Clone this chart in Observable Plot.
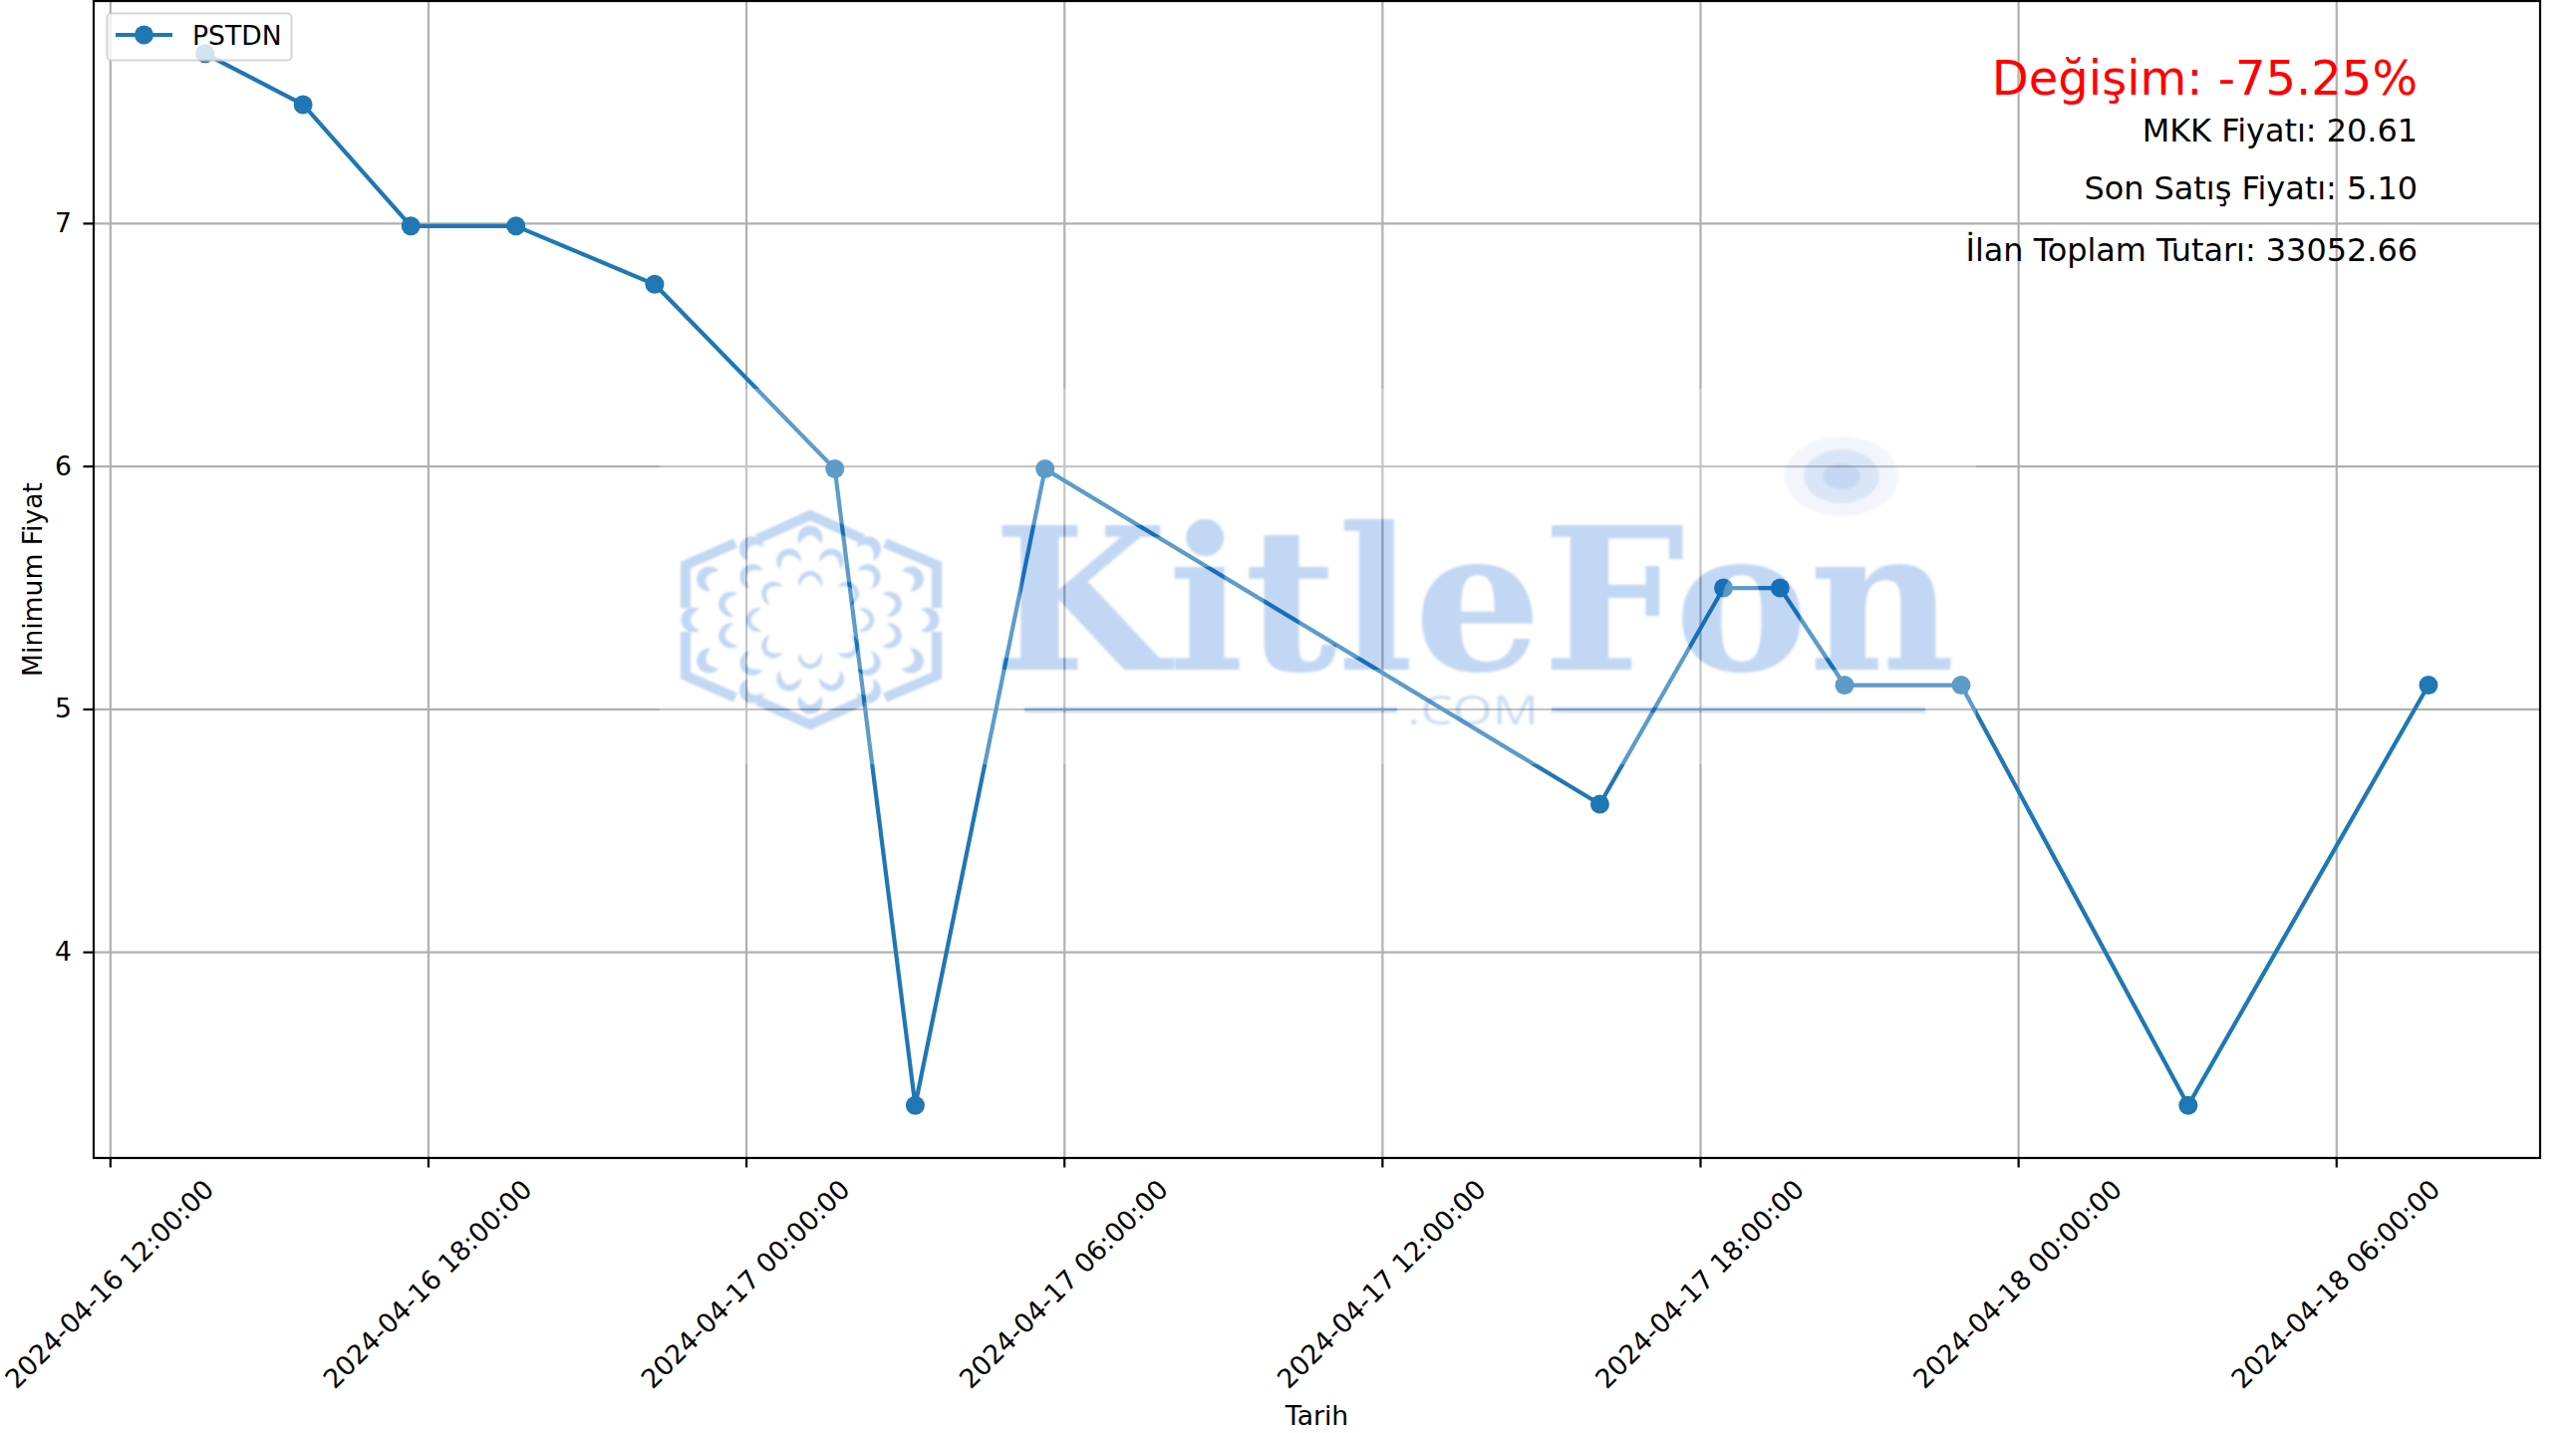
<!DOCTYPE html>
<html lang="tr">
<head>
<meta charset="utf-8">
<title>PSTDN</title>
<script src="https://cdn.jsdelivr.net/npm/d3@7"></script>
<script src="https://cdn.jsdelivr.net/npm/@observablehq/plot@0.6"></script>
<style>
html,body{margin:0;padding:0;background:#fff;overflow:hidden}
svg{display:block}
</style>
</head>
<body>
<div id="chart"></div>
<script>
const seriesName = "PSTDN";
const times = [
  "2024-04-16T13:47:00Z","2024-04-16T15:38:00Z","2024-04-16T17:40:00Z","2024-04-16T19:39:00Z",
  "2024-04-16T22:16:00Z","2024-04-17T01:40:00Z","2024-04-17T03:11:00Z","2024-04-17T05:38:00Z",
  "2024-04-17T16:06:00Z","2024-04-17T18:26:00Z","2024-04-17T19:30:00Z","2024-04-17T20:43:00Z",
  "2024-04-17T22:55:00Z","2024-04-18T03:12:00Z","2024-04-18T07:44:00Z"
];
const prices = [7.70,7.49,6.99,6.99,6.75,5.99,3.37,5.99,4.61,5.50,5.50,5.10,5.10,3.37,5.10];
const xTicks = [
  "2024-04-16T12:00:00Z","2024-04-16T18:00:00Z","2024-04-17T00:00:00Z","2024-04-17T06:00:00Z",
  "2024-04-17T12:00:00Z","2024-04-17T18:00:00Z","2024-04-18T00:00:00Z","2024-04-18T06:00:00Z"
];
const xTickLabels = [
  "2024-04-16 12:00:00","2024-04-16 18:00:00","2024-04-17 00:00:00","2024-04-17 06:00:00",
  "2024-04-17 12:00:00","2024-04-17 18:00:00","2024-04-18 00:00:00","2024-04-18 06:00:00"
];
const yTicks = [4,5,6,7];
const xDomain = ["2024-04-16T11:41:00Z","2024-04-18T09:50:24Z"];
const yDomain = [3.1535,7.9165];
const annotations = [
  {text:"Değişim: -75.25%", size:48, color:"#ff0000", baseline:95},
  {text:"MKK Fiyatı: 20.61", size:31.9, color:"#000000", baseline:141.5},
  {text:"Son Satış Fiyatı: 5.10", size:31.9, color:"#000000", baseline:199.5},
  {text:"İlan Toplam Tutarı: 33052.66", size:31.9, color:"#000000", baseline:261.5}
];

const FONT = "'DejaVu Sans', sans-serif";
const BLUE = "#1f77b4";
const WM = "rgb(0,88,205)";
const data = times.map((t,i)=>({t:new Date(t), v:prices[i]}));
const tickDates = xTicks.map((t,i)=>({d:new Date(t), label:xTickLabels[i]}));

const chart = Plot.plot({
  width:2585, height:1438,
  marginTop:0.5, marginRight:36.5, marginBottom:276.5, marginLeft:93.5,
  style:{background:"#fff", fontFamily:FONT, overflow:"visible"},
  x:{type:"utc", domain:xDomain.map(d=>new Date(d))},
  y:{domain:yDomain},
  marks:[
    Plot.gridX(xTicks.map(d=>new Date(d)),{stroke:"#b0b0b0",strokeOpacity:1,strokeWidth:2.2}),
    Plot.gridY(yTicks,{stroke:"#b0b0b0",strokeOpacity:1,strokeWidth:2.2}),
    Plot.axisX(xTicks.map(d=>new Date(d)),{tickFormat:()=>"",tickSize:10,strokeWidth:2.2,label:null,stroke:"#000"}),
    Plot.axisY(yTicks,{tickSize:10,tickPadding:12,strokeWidth:2.2,fontSize:26.6,label:null,fill:"#000",stroke:"#000",tickFormat:d=>String(d)}),
    Plot.text(tickDates,{x:"d",text:"label",frameAnchor:"bottom",dy:127,dx:-0.5,rotate:-45,textAnchor:"middle",lineAnchor:"middle",fontSize:26.6,fill:"#000"}),
    Plot.text(["Tarih"],{frameAnchor:"bottom",dy:259,textAnchor:"middle",lineAnchor:"middle",fontSize:26.6,fill:"#000"}),
    Plot.text(["Minimum Fiyat"],{frameAnchor:"left",dx:-61,rotate:-90,textAnchor:"middle",lineAnchor:"middle",fontSize:26.6,fill:"#000"}),
    Plot.line(data,{x:"t",y:"v",stroke:BLUE,strokeWidth:4.2,curve:"linear"}),
    Plot.dot(data,{x:"t",y:"v",r:9.5,fill:BLUE,stroke:"none"}),
    Plot.frame({stroke:"#000",strokeWidth:2.2}),
    ...annotations.map(a=>Plot.text([a.text],{
      frameAnchor:"top-right",textAnchor:"end",lineAnchor:"middle",
      dx:-123,dy:a.baseline-1-a.size*0.32,fontSize:a.size,fill:a.color
    }))
  ]
});
document.getElementById("chart").appendChild(chart);

/* Semi-transparent KitleFon watermark laid over the plot */
const svg = d3.select(chart);
const defs = svg.append("defs");
defs.append("filter").attr("id","wmblur").attr("x","-5%").attr("y","-5%").attr("width","110%").attr("height","110%")
  .append("feGaussianBlur").attr("stdDeviation",0.9);

function drawShapes(g){
  const cx=813, cy=622;
  const hexPaths = [
    "M760,541 L813,517 L866,541",
    "M760,703 L813,727 L866,703",
    "M738,545 L688,567 L688,610",
    "M738,700 L688,678 L688,634",
    "M888,545 L940,567 L940,610",
    "M888,700 L940,678 L940,634"
  ];
  hexPaths.forEach(p=>g.append("path").attr("d",p).attr("fill","none").attr("stroke","currentColor").attr("stroke-width",10));
  const crescent=(px,py,R,wf,bf,depth)=>{
    const ang=Math.atan2(py-cy,px-cx)*180/Math.PI+90;
    const w=R*wf,b=R*bf;
    const d=`M${-w},${b} A${R},${R} 0 1 1 ${w},${b} Q0,${b-2*depth} ${-w},${b} Z`;
    g.append("path").attr("d",d).attr("transform",`translate(${px},${py}) rotate(${ang})`).attr("fill","currentColor");
  };
  for(let i=0;i<12;i++){const t=i*30*Math.PI/180;
    crescent(cx+117*Math.cos(t),cy+82*Math.sin(t),12.5,0.88,0.47,9);}
  for(let i=0;i<12;i++){const t=(15+i*30)*Math.PI/180;
    crescent(cx+82*Math.cos(t),cy+61*Math.sin(t),12.5,0.92,0.38,11);}
  for(let i=0;i<8;i++){const t=i*45*Math.PI/180;
    crescent(cx+52*Math.cos(t),cy+37*Math.sin(t),12,0.95,0.3,11);}
  g.append("text").text("KitleFon").attr("x",996).attr("y",672).attr("text-anchor","start")
    .attr("font-family","'DejaVu Serif', serif").attr("font-weight",700).attr("font-size",198)
    .attr("textLength",966).attr("lengthAdjust","spacingAndGlyphs").attr("fill","currentColor");
  g.append("rect").attr("x",1028).attr("y",710).attr("width",374).attr("height",5).attr("fill","currentColor");
  g.append("rect").attr("x",1557).attr("y",710).attr("width",375).attr("height",5).attr("fill","currentColor");
}
const mask = defs.append("mask").attr("id","wmmask").attr("maskUnits","userSpaceOnUse")
  .attr("x",0).attr("y",0).attr("width",2585).attr("height",1438);
mask.append("rect").attr("x",662).attr("y",390).attr("width",1321).attr("height",377).attr("fill","#fff");
drawShapes(mask.append("g").style("color","#000"));

svg.append("rect").attr("x",662).attr("y",390).attr("width",1321).attr("height",377)
  .attr("fill","#fff").attr("fill-opacity",0.28).attr("mask","url(#wmmask)");

const wm = svg.append("g").attr("filter","url(#wmblur)");
const shapes = wm.append("g").style("color",WM).attr("opacity",0.24);
drawShapes(shapes);
wm.append("text").text(".COM").attr("x",1412).attr("y",727).attr("text-anchor","start")
  .attr("font-family","'Open Sans', sans-serif").attr("font-weight",400).attr("font-size",40)
  .attr("textLength",132).attr("lengthAdjust","spacingAndGlyphs").attr("fill",WM).attr("opacity",0.2);
[[57,40,0.05],[38,27,0.11],[19,13,0.09]].forEach(([rx,ry,o])=>
  wm.append("ellipse").attr("cx",1848).attr("cy",478).attr("rx",rx).attr("ry",ry).attr("fill",WM).attr("opacity",o));

/* Legend */
const lg = svg.append("g");
lg.append("rect").attr("x",107.5).attr("y",13.5).attr("width",185).attr("height",47).attr("rx",4)
  .attr("fill","#fff").attr("fill-opacity",0.8).attr("stroke","#cccccc").attr("stroke-opacity",0.8).attr("stroke-width",2.2);
lg.append("line").attr("x1",116).attr("x2",173).attr("y1",35).attr("y2",35).attr("stroke",BLUE).attr("stroke-width",4.2);
lg.append("circle").attr("cx",144.5).attr("cy",35).attr("r",9.5).attr("fill",BLUE);
lg.append("text").text(seriesName).attr("x",193).attr("y",44.5).attr("text-anchor","start").attr("font-family",FONT).attr("font-size",26.6).attr("fill","#000");
</script>
</body>
</html>
